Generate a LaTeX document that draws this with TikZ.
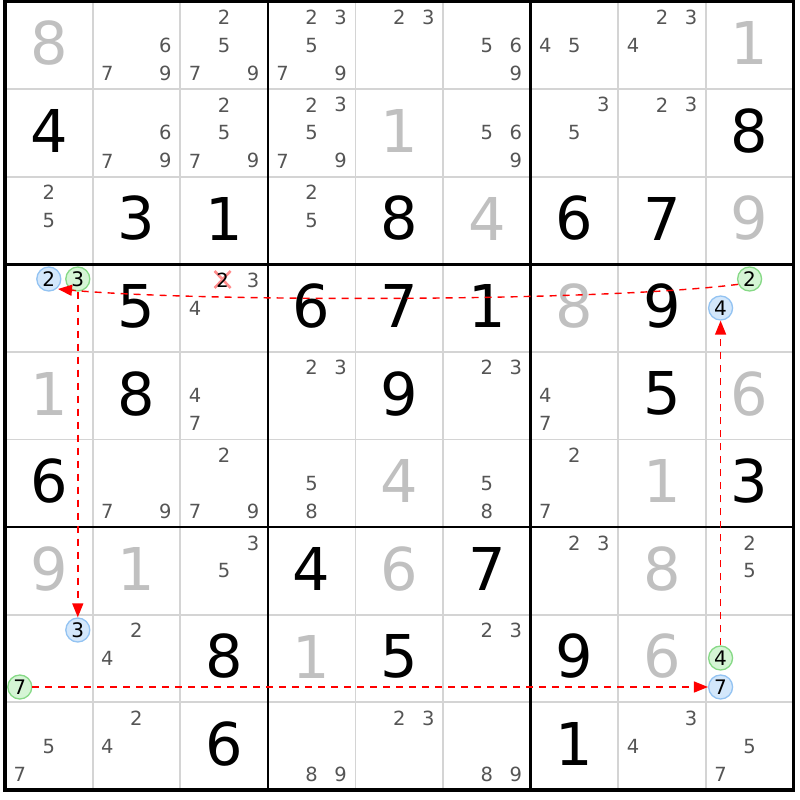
\documentclass[tikz,border=0pt]{standalone}
\usepackage{fontspec}
\setmainfont{DejaVu Sans}
\usetikzlibrary{arrows.meta}
\definecolor{givc}{HTML}{C0C0C0}
\definecolor{candc}{HTML}{555555}
\definecolor{thinc}{HTML}{D4D4D4}
\definecolor{bluefill}{HTML}{D3E7FB}
\definecolor{bluedraw}{HTML}{93C3F2}
\definecolor{greenfill}{HTML}{D5F5D5}
\definecolor{greendraw}{HTML}{86D986}
\definecolor{strikec}{HTML}{FF8C8C}
\begin{document}
\begin{tikzpicture}[x=1pt,y=-1pt,
  given/.style={inner sep=0pt,font=\fontsize{59}{59}\selectfont,text=givc},
  solved/.style={inner sep=0pt,font=\fontsize{59}{59}\selectfont,text=black},
  cand/.style={inner sep=0pt,font=\fontsize{19.5}{19.5}\selectfont,text=candc},
  bluecirc/.style={circle,draw=bluedraw,fill=bluefill,line width=1.3pt,minimum size=24pt,inner sep=0pt,font=\fontsize{20}{20}\selectfont,text=black},
  greencirc/.style={circle,draw=greendraw,fill=greenfill,line width=1.3pt,minimum size=24pt,inner sep=0pt,font=\fontsize{20}{20}\selectfont,text=black},
  linkarrow/.style={draw=red,line width=1.4pt,dash pattern=on 7pt off 6pt,-{Triangle[length=14pt,width=11pt,fill=red]}}]
\fill[white] (0,0) rectangle (800,800);
\useasboundingbox (0,0) rectangle (800,800);
% thin grid lines
\foreach \i in {1,2,4,5,7,8}{
  \draw[thinc,line width=1.8pt] ({5+87.6*\i},1.5) -- ({5+87.6*\i},789.9);
  \draw[thinc,line width=1.8pt] (5,{1.5+87.6*\i}) -- (793.4,{1.5+87.6*\i});
}
% thick grid lines
\foreach \i in {3,6}{
  \draw[black,line width=2.6pt] ({5+87.6*\i},1.5) -- ({5+87.6*\i},789.9);
  \draw[black,line width=2.6pt] (5,{1.5+87.6*\i}) -- (793.4,{1.5+87.6*\i});
}
\draw[black,line width=3.2pt] (5,1.5) rectangle (793.4,789.9);
% given digits
\foreach \r/\c/\d in {1/1/8,1/9/1,2/5/1,3/6/4,3/9/9,4/7/8,5/1/1,5/9/6,6/5/4,6/8/1,7/1/9,7/2/1,7/5/6,7/8/8,8/4/1,8/8/6}{
  \node[given] (g\r\c) at ({5+87.6*(\c-0.5)},{1.5+87.6*(\r-0.5)-2}) {\d};
}
% solved digits
\foreach \r/\c/\d in {2/1/4,2/9/8,3/2/3,3/3/1,3/5/8,3/7/6,3/8/7,4/2/5,4/4/6,4/5/7,4/6/1,4/8/9,5/2/8,5/5/9,5/8/5,6/1/6,6/9/3,7/4/4,7/6/7,8/3/8,8/5/5,8/7/9,9/3/6,9/7/1}{
  \node[solved] (s\r\c) at ({5+87.6*(\c-0.5)},{1.5+87.6*(\r-0.5)-2}) {\d};
}
% candidates
\foreach \r/\c/\ds in {1/2/{6,7,9},1/3/{2,5,7,9},1/4/{2,3,5,7,9},1/5/{2,3},1/6/{5,6,9},1/7/{4,5},1/8/{2,3,4},
  2/2/{6,7,9},2/3/{2,5,7,9},2/4/{2,3,5,7,9},2/6/{5,6,9},2/7/{3,5},2/8/{2,3},
  3/1/{2,5},3/4/{2,5},
  4/3/{3,4},
  5/3/{4,7},5/4/{2,3},5/6/{2,3},5/7/{4,7},
  6/2/{7,9},6/3/{2,7,9},6/4/{5,8},6/6/{5,8},6/7/{2,7},
  7/3/{3,5},7/7/{2,3},7/9/{2,5},
  8/2/{2,4},8/6/{2,3},
  9/1/{5,7},9/2/{2,4},9/4/{8,9},9/5/{2,3},9/6/{8,9},9/8/{3,4},9/9/{5,7}}{
  \foreach \d in \ds {
    \node[cand] (k\r\c\d) at ({5+87.6*(\c-0.5)+29*(mod(\d-1,3)-1)},{1.5+87.6*(\r-0.5)+28*(floor((\d-1)/3)-1)}) {\d};
  }
}
% struck candidate 2 in r4c3
\draw[strikec,line width=2.6pt] (214.6,271) -- (230.6,288) (214.6,288) -- (230.6,271);
\node[cand,text=black] (k432) at (222.6,280) {2};
% highlighted candidates
\node[bluecirc] (a412) at (48.8,279) {2};
\node[greencirc] (a413) at (77.8,279) {3};
\node[greencirc] (a492) at (749.6,279) {2};
\node[bluecirc] (a494) at (720.6,308) {4};
\node[bluecirc] (a813) at (77.8,630) {3};
\node[greencirc] (a817) at (19.8,687) {7};
\node[greencirc] (a894) at (720.6,658) {4};
\node[bluecirc] (a897) at (720.6,687) {7};
% links
\coordinate (e1) at (58,289);
\draw[linkarrow] (a492.205) .. controls (600,302) and (200,302) .. (e1);
\draw[linkarrow] (a413.south) -- (a813.north);
\draw[linkarrow] (a817.east) -- (a897.west);
\draw[linkarrow] (a894.north) -- (a494.south);
\end{tikzpicture}
\end{document}
